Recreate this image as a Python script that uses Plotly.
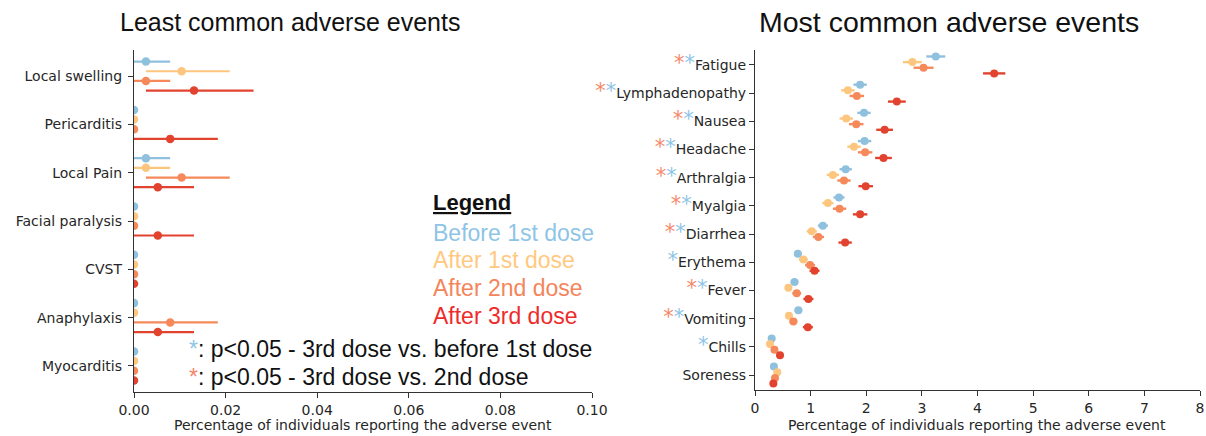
import plotly.graph_objects as go

# ---------------- data ----------------
left_events = ["Local swelling", "Pericarditis", "Local Pain", "Facial paralysis",
               "CVST", "Anaphylaxis", "Myocarditis"]
left_before1 = [0.0026, 0, 0.0026, 0, 0, 0, 0]
left_before1_lo = [0, 0, 0, 0, 0, 0, 0]
left_before1_hi = [0.0079, 0, 0.0079, 0, 0, 0, 0]
left_after1 = [0.0104, 0, 0.0026, 0, 0, 0, 0]
left_after1_lo = [0.0026, 0, 0, 0, 0, 0, 0]
left_after1_hi = [0.0209, 0, 0.0079, 0, 0, 0, 0]
left_after2 = [0.0026, 0, 0.0104, 0, 0, 0.0079, 0]
left_after2_lo = [0, 0, 0.0026, 0, 0, 0, 0]
left_after2_hi = [0.0079, 0, 0.0209, 0, 0, 0.0183, 0]
left_after3 = [0.0131, 0.0079, 0.0052, 0.0052, 0, 0.0052, 0]
left_after3_lo = [0.0026, 0, 0, 0, 0, 0, 0]
left_after3_hi = [0.0261, 0.0183, 0.0131, 0.0131, 0, 0.0131, 0]

right_events = ["Fatigue", "Lymphadenopathy", "Nausea", "Headache", "Arthralgia", "Myalgia",
                "Diarrhea", "Erythema", "Fever", "Vomiting", "Chills", "Soreness"]
right_before1 = [3.25, 1.89, 1.96, 1.97, 1.63, 1.51, 1.22, 0.77, 0.71, 0.78, 0.30, 0.34]
right_after1 = [2.83, 1.67, 1.64, 1.78, 1.40, 1.31, 1.02, 0.87, 0.60, 0.61, 0.27, 0.40]
right_after2 = [3.03, 1.83, 1.82, 1.98, 1.60, 1.52, 1.14, 0.99, 0.75, 0.69, 0.35, 0.36]
right_after3 = [4.30, 2.55, 2.33, 2.31, 1.99, 1.89, 1.62, 1.07, 0.96, 0.95, 0.45, 0.33]
right_before1_err = [0.17, 0.12, 0.12, 0.12, 0.11, 0.10, 0.09, 0.07, 0.07, 0.07, 0.04, 0.04]
right_after1_err = [0.17, 0.12, 0.12, 0.12, 0.11, 0.10, 0.09, 0.08, 0.06, 0.06, 0.04, 0.05]
right_after2_err = [0.18, 0.13, 0.13, 0.13, 0.12, 0.12, 0.10, 0.09, 0.08, 0.07, 0.05, 0.05]
right_after3_err = [0.20, 0.16, 0.15, 0.15, 0.13, 0.13, 0.12, 0.09, 0.09, 0.09, 0.06, 0.05]
right_star_vs2 = [1, 1, 1, 1, 1, 1, 1, 0, 1, 1, 0, 0]
right_star_vs0 = [1, 1, 1, 1, 1, 1, 1, 1, 1, 1, 1, 0]

series_names = ["Before 1st dose", "After 1st dose", "After 2nd dose", "After 3rd dose"]
left_x_ticks = [0.00, 0.02, 0.04, 0.06, 0.08, 0.10]
right_x_ticks = [0, 1, 2, 3, 4, 5, 6, 7, 8]

# ---------------- style ----------------
W, H = 1206, 436
colors = ["#8fc0de", "#fdc67f", "#f5895a", "#e2432f"]
legend_colors = ["#8ec5e6", "#ffc97f", "#f4855b", "#ee2b2b"]
star_orange = "#f5876a"
star_blue = "#8ec5e6"
offsets = [-0.3, -0.1, 0.1, 0.3]
tick_font = dict(family="DejaVu Sans", size=14, color="#262626")
big_font = "Liberation Sans, Arial"

fig = go.Figure()

left_sets = [
    (left_before1, left_before1_lo, left_before1_hi),
    (left_after1, left_after1_lo, left_after1_hi),
    (left_after2, left_after2_lo, left_after2_hi),
    (left_after3, left_after3_lo, left_after3_hi),
]
for k, (v, lo, hi) in enumerate(left_sets):
    fig.add_trace(go.Scatter(
        x=v, y=[i + offsets[k] for i in range(len(left_events))],
        mode="markers", name=series_names[k], showlegend=False,
        marker=dict(color=colors[k], size=8.5),
        error_x=dict(type="data", symmetric=False,
                     array=[h - x for h, x in zip(hi, v)],
                     arrayminus=[x - l for l, x in zip(lo, v)],
                     color=colors[k], thickness=2.2, width=0),
        xaxis="x", yaxis="y"))

right_sets = [
    (right_before1, right_before1_err), (right_after1, right_after1_err),
    (right_after2, right_after2_err), (right_after3, right_after3_err),
]
for k, (v, e) in enumerate(right_sets):
    fig.add_trace(go.Scatter(
        x=v, y=[i + offsets[k] for i in range(len(right_events))],
        mode="markers", name=series_names[k], showlegend=False,
        marker=dict(color=colors[k], size=8),
        error_x=dict(type="data", array=e, color=colors[k], thickness=2.4, width=0),
        xaxis="x2", yaxis="y2"))

star_o = f'<span style="color:{star_orange};font-size:21px">*</span>'
star_b = f'<span style="color:{star_blue};font-size:21px">*</span>'
right_ticktext = []
for name, s2, s0 in zip(right_events, right_star_vs2, right_star_vs0):
    right_ticktext.append((star_o if s2 else "") + (star_b if s0 else "") + name)

axis_common = dict(showline=True, linecolor="#333", linewidth=1.3, ticks="outside",
                   ticklen=5, tickwidth=1.3, tickcolor="#333", showgrid=False,
                   zeroline=False, tickfont=tick_font, automargin=False)
xtitle_font = dict(family="DejaVu Sans", size=14, color="#262626")

fig.update_layout(
    width=W, height=H, margin=dict(l=0, r=0, t=0, b=0, autoexpand=False),
    paper_bgcolor="white", plot_bgcolor="white", showlegend=False,
    xaxis=dict(domain=[134 / W, 592 / W], range=[0, 0.1],
               tickvals=left_x_ticks, ticktext=[f"{t:.2f}" for t in left_x_ticks],
               anchor="y", **axis_common),
    yaxis=dict(domain=[1 - 392 / H, 1 - 50 / H], range=[6.54, -0.54],
               tickvals=list(range(len(left_events))), ticktext=left_events,
               ticklabelstandoff=3, anchor="x", **axis_common),
    xaxis2=dict(domain=[755 / W, 1200 / W], range=[0, 8],
                tickvals=right_x_ticks, ticktext=[str(t) for t in right_x_ticks],
                anchor="y2", **axis_common),
    yaxis2=dict(domain=[1 - 390 / H, 1 - 50 / H], range=[11.53, -0.53],
                tickvals=list(range(len(right_events))), ticktext=right_ticktext,
                anchor="x2", **axis_common),
)

ann = []
# axis titles
ann.append(dict(text="Percentage of individuals reporting the adverse event",
                x=363 / W, y=1 - 425 / H, xref="paper", yref="paper",
                xanchor="center", yanchor="middle", showarrow=False, font=xtitle_font))
ann.append(dict(text="Percentage of individuals reporting the adverse event",
                x=977 / W, y=1 - 425 / H, xref="paper", yref="paper",
                xanchor="center", yanchor="middle", showarrow=False, font=xtitle_font))
# panel titles
ann.append(dict(text="Least common adverse events", x=118 / W, y=1 - 22 / H,
                xref="paper", yref="paper", xanchor="left", yanchor="middle",
                showarrow=False, font=dict(family=big_font, size=25, color="#111")))
ann.append(dict(text="Most common adverse events", x=757 / W, y=1 - 22 / H,
                xref="paper", yref="paper", xanchor="left", yanchor="middle",
                showarrow=False, font=dict(family=big_font, size=28.5, color="#111")))
# legend block
ann.append(dict(text="<b><u>Legend</u></b>", x=431 / W, y=1 - 203 / H,
                xref="paper", yref="paper", xanchor="left", yanchor="middle",
                showarrow=False, font=dict(family=big_font, size=22, color="#111")))
for k, yy in enumerate([233, 260, 288, 316]):
    ann.append(dict(text=series_names[k], x=431 / W, y=1 - yy / H,
                    xref="paper", yref="paper", xanchor="left", yanchor="middle",
                    showarrow=False, font=dict(family=big_font, size=23, color=legend_colors[k])))
ann.append(dict(text=f'<span style="color:{star_blue}">*</span>: p<0.05 - 3rd dose vs. before 1st dose',
                x=187 / W, y=1 - 349 / H, xref="paper", yref="paper",
                xanchor="left", yanchor="middle", showarrow=False,
                font=dict(family=big_font, size=23, color="#111")))
ann.append(dict(text=f'<span style="color:{star_orange}">*</span>: p<0.05 - 3rd dose vs. 2nd dose',
                x=187 / W, y=1 - 377 / H, xref="paper", yref="paper",
                xanchor="left", yanchor="middle", showarrow=False,
                font=dict(family=big_font, size=23, color="#111")))
fig.update_layout(annotations=ann)

fig.write_html("out.html", config={"displayModeBar": False},
               post_script="document.body.style.margin='0px';")
